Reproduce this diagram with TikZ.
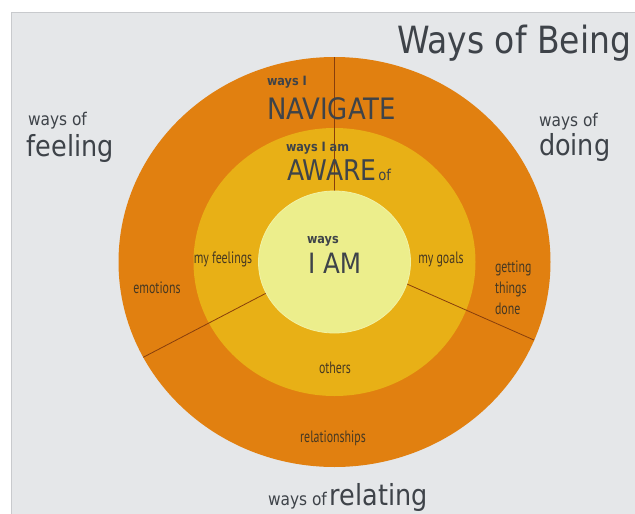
\documentclass[tikz,border=0pt]{standalone}
\usepackage{fontspec}
\usetikzlibrary{calc}
\newfontfamily\headfont[FakeStretch=0.88]{DejaVu Sans}
\newfontfamily\ringfont[FakeStretch=0.72]{PT Sans}

\definecolor{slidebg}{RGB}{229,231,233}
\definecolor{slideedge}{RGB}{200,202,205}
\definecolor{outerring}{RGB}{225,128,16}
\definecolor{midring}{RGB}{232,176,22}
\definecolor{corefill}{RGB}{236,238,140}
\definecolor{corerim}{RGB}{241,242,165}
\definecolor{divider}{RGB}{135,62,12}
\definecolor{slateink}{RGB}{62,67,73}
\definecolor{ringink}{RGB}{70,56,34}

\newcommand{\fsz}[1]{\fontsize{#1}{#1}\selectfont}

\tikzset{
  txt/.style={inner sep=0pt, outer sep=0pt, text=slateink, font=\headfont},
  ringtxt/.style={inner sep=0pt, outer sep=0pt, text=ringink, font=\ringfont\fsz{16.5}},
  divline/.style={draw=divider, line width=0.8pt},
}

\begin{document}
\begin{tikzpicture}[x=1pt,y=-1pt]
  \useasboundingbox (0,0) rectangle (635,514);
  % page and slide area
  \fill[white] (0,0) rectangle (635,514);
  \fill[slidebg] (11,12) rectangle (635,514);
  \draw[slideedge, line width=0.6pt] (11,514) -- (11,12) -- (635,12);

  % concentric rings
  \coordinate (c) at (334.5,262);
  \fill[outerring] (c) ellipse [x radius=216pt, y radius=205pt];
  \fill[midring] (c) ellipse [x radius=141pt, y radius=134pt];

  % dividers between the three sectors
  \coordinate (topO) at ($(c)+(90:216pt and 205pt)$);
  \coordinate (topI) at ($(c)+(90:76pt and 71pt)$);
  \coordinate (leftO) at ($(c)+(207.7:216pt and 205pt)$);
  \coordinate (leftI) at ($(c)+(206:76pt and 71pt)$);
  \coordinate (rightO) at ($(c)+(-22.4:216pt and 205pt)$);
  \coordinate (rightI) at ($(c)+(-18:76pt and 71pt)$);
  \draw[divline] (topO) -- (topI);
  \draw[divline] (leftO) -- (leftI);
  \draw[divline] (rightO) -- (rightI);

  % core
  \fill[corefill, draw=corerim, line width=0.8pt] (c) ellipse [x radius=76pt, y radius=71pt];

  % slide texts
  \node[txt, anchor=base west, font=\headfont\fsz{37.5}] (title) at (397,53) {Ways of Being};
  \node[txt, anchor=base west, font=\headfont\fsz{17.5}] (feelA) at (28,125) {ways of};
  \node[txt, anchor=base west, font=\headfont\fsz{29}] (feelB) at (27,156) {feeling};
  \node[txt, anchor=base west, font=\headfont\fsz{17.5}] (doA) at (539,126) {ways of};
  \node[txt, anchor=base west, font=\headfont\fsz{29}] (doB) at (539,155) {doing};
  \node[txt, anchor=base west] (relate) at (268,505) {{\fsz{17.5}ways of} {\fsz{29}relating}};

  % ring headings
  \node[txt, anchor=base west, font=\headfont\bfseries\fsz{12.8}] (navA) at (267,85) {ways I};
  \node[txt, anchor=base west, font=\headfont\fsz{29.5}] (navB) at (267,119) {NAVIGATE};
  \node[txt, anchor=base west, font=\headfont\bfseries\fsz{12.8}] (awA) at (286,151) {ways I am};
  \node[txt, anchor=base west] (awB) at (287,180) {{\fsz{28.5}AWARE}\,{\fsz{15}of}};
  \node[txt, anchor=base west, font=\headfont\bfseries\fsz{12.8}] (amA) at (307,243) {ways};
  \node[txt, anchor=base west, font=\headfont\fsz{28}] (amB) at (308,273) {I AM};

  % sector labels
  \node[ringtxt, anchor=base] (myfeel) at (223,263) {my feelings};
  \node[ringtxt, anchor=base] (mygoals) at (441,263) {my goals};
  \node[ringtxt, anchor=base] (emo) at (157,293) {emotions};
  \node[ringtxt, anchor=base west] (getA) at (495,272) {getting};
  \node[ringtxt, anchor=base west] (getB) at (495,293) {things};
  \node[ringtxt, anchor=base west] (getC) at (495,314) {done};
  \node[ringtxt, anchor=base] (oth) at (335,373) {others};
  \node[ringtxt, anchor=base] (rel) at (333,442) {relationships};
\end{tikzpicture}
\end{document}
